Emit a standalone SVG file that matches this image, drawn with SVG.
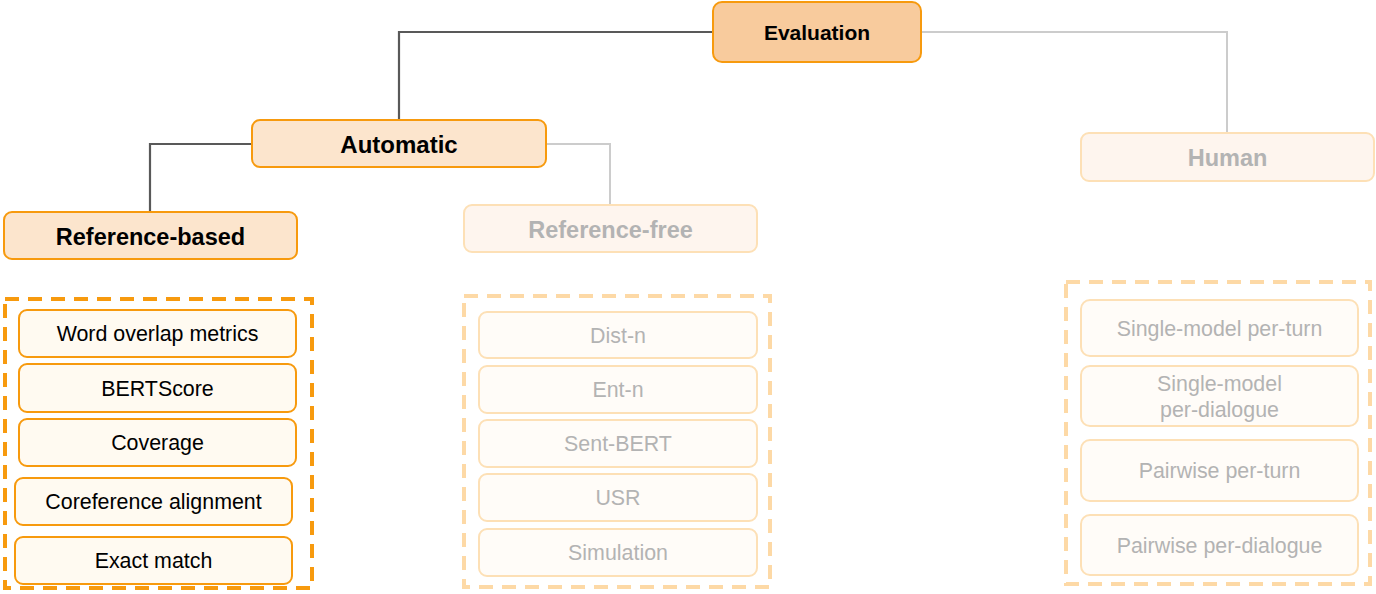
<svg xmlns="http://www.w3.org/2000/svg" width="1376" height="594" viewBox="0 0 1376 594">
  <style>
    text { font-family: "Liberation Sans", Arial, Helvetica, sans-serif; text-anchor: middle; }
    .root { fill: #f8cb9d; stroke: #f79a0e; stroke-width: 2; }
    .mid { fill: #fce5cd; stroke: #f79a0e; stroke-width: 2; }
    .leaf { fill: #fffaf1; stroke: #f79a0e; stroke-width: 2; }
    .fmid { fill: #fef5ee; stroke: #fde0b6; stroke-width: 2; }
    .fleaf { fill: #fffcf8; stroke: #fde0b6; stroke-width: 2; }
    .grp { fill: none; stroke: #f79a0e; stroke-width: 4; stroke-dasharray: 14 9; }
    .fgrp { fill: none; stroke: #fdd9a6; stroke-width: 4; stroke-dasharray: 14 9; }
    .hd { font-weight: bold; fill: #000; }
    .fhd { font-weight: bold; fill: #b3b3b3; }
    .lb { font-size: 21.4px; fill: #000; }
    .flb { font-size: 21.4px; fill: #b3b3b3; }
    .dark { fill: none; stroke: #595959; stroke-width: 2.2; }
    .light { fill: none; stroke: #cccccc; stroke-width: 2; }
  </style>

  <!-- tree connectors -->
  <g id="connectors">
    <polyline class="dark" points="713,32 399,32 399,120"/>
    <polyline class="light" points="921,32 1227,32 1227,133"/>
    <polyline class="dark" points="252,144 150,144 150,212"/>
    <polyline class="light" points="546,144 610,144 610,205"/>
  </g>

  <g id="evaluation">
    <rect class="root" x="713" y="2" width="208" height="60" rx="9"/>
    <text class="hd" x="817" y="39.5" font-size="21">Evaluation</text>
  </g>

  <g id="automatic">
    <rect class="mid" x="252" y="120" width="294" height="47" rx="8"/>
    <text class="hd" x="399" y="152.5" font-size="24">Automatic</text>
  </g>

  <g id="reference-based">
    <rect class="mid" x="4" y="212" width="293" height="47" rx="8"/>
    <text class="hd" x="150.5" y="244.5" font-size="23.5">Reference-based</text>
  </g>

  <g id="reference-free">
    <rect class="fmid" x="464" y="205" width="293" height="47" rx="8"/>
    <text class="fhd" x="610.5" y="237.5" font-size="23.5">Reference-free</text>
  </g>

  <g id="human">
    <rect class="fmid" x="1081" y="133" width="293" height="48" rx="8"/>
    <text class="fhd" x="1227.5" y="165.5" font-size="23.5">Human</text>
  </g>

  <!-- reference-based metrics -->
  <g id="reference-based-metrics">
    <rect class="grp" x="5" y="299" width="307" height="289"/>
    <g id="word-overlap">
      <rect class="leaf" x="19" y="310" width="277" height="47" rx="8"/>
      <text class="lb" x="157.5" y="341">Word overlap metrics</text>
    </g>
    <g id="bertscore">
      <rect class="leaf" x="19" y="364" width="277" height="48" rx="8"/>
      <text class="lb" x="157.5" y="395.5">BERTScore</text>
    </g>
    <g id="coverage">
      <rect class="leaf" x="19" y="419" width="277" height="47" rx="8"/>
      <text class="lb" x="157.5" y="450">Coverage</text>
    </g>
    <g id="coreference">
      <rect class="leaf" x="15" y="478" width="277" height="47" rx="8"/>
      <text class="lb" x="153.5" y="509">Coreference alignment</text>
    </g>
    <g id="exact-match">
      <rect class="leaf" x="15" y="537" width="277" height="47" rx="8"/>
      <text class="lb" x="153.5" y="568">Exact match</text>
    </g>
  </g>

  <!-- reference-free metrics -->
  <g id="reference-free-metrics">
    <rect class="fgrp" x="464" y="296" width="306" height="291"/>
    <g id="dist-n">
      <rect class="fleaf" x="479" y="312" width="278" height="46" rx="8"/>
      <text class="flb" x="618" y="342.5">Dist-n</text>
    </g>
    <g id="ent-n">
      <rect class="fleaf" x="479" y="366" width="278" height="47" rx="8"/>
      <text class="flb" x="618" y="397">Ent-n</text>
    </g>
    <g id="sent-bert">
      <rect class="fleaf" x="479" y="420" width="278" height="47" rx="8"/>
      <text class="flb" x="618" y="451">Sent-BERT</text>
    </g>
    <g id="usr">
      <rect class="fleaf" x="479" y="474" width="278" height="47" rx="8"/>
      <text class="flb" x="618" y="505">USR</text>
    </g>
    <g id="simulation">
      <rect class="fleaf" x="479" y="529" width="278" height="47" rx="8"/>
      <text class="flb" x="618" y="560">Simulation</text>
    </g>
  </g>

  <!-- human evaluation settings -->
  <g id="human-settings">
    <rect class="fgrp" x="1066" y="282" width="304" height="302"/>
    <g id="single-turn">
      <rect class="fleaf" x="1081" y="300" width="277" height="56" rx="9"/>
      <text class="flb" x="1219.5" y="335.5">Single-model per-turn</text>
    </g>
    <g id="single-dialogue">
      <rect class="fleaf" x="1081" y="366" width="277" height="60" rx="9"/>
      <text class="flb" x="1219.5" y="391">Single-model</text>
      <text class="flb" x="1219.5" y="417">per-dialogue</text>
    </g>
    <g id="pairwise-turn">
      <rect class="fleaf" x="1081" y="440" width="277" height="61" rx="9"/>
      <text class="flb" x="1219.5" y="478">Pairwise per-turn</text>
    </g>
    <g id="pairwise-dialogue">
      <rect class="fleaf" x="1081" y="515" width="277" height="60" rx="9"/>
      <text class="flb" x="1219.5" y="552.5">Pairwise per-dialogue</text>
    </g>
  </g>
</svg>
